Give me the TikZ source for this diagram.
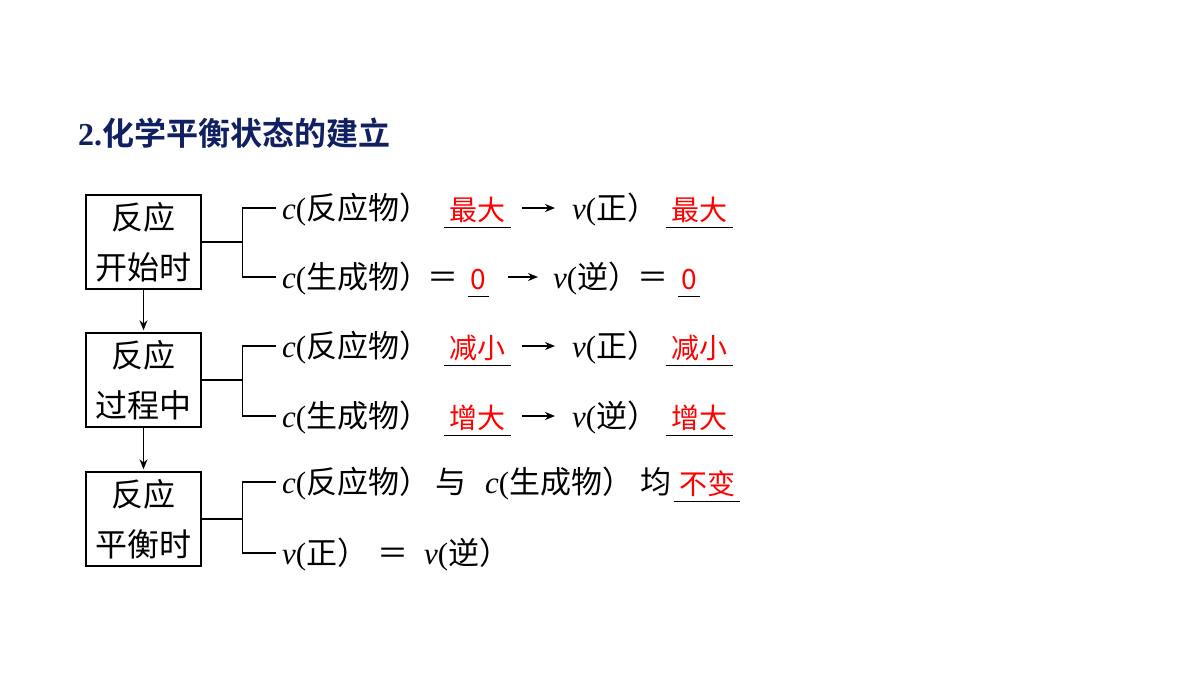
\documentclass[tikz,border=0pt]{standalone}
\usepackage{fontspec}
\setmainfont{Noto Sans CJK SC}[BoldFont={Noto Sans CJK SC Bold}]
\newfontfamily\tnr{Liberation Serif}
\usetikzlibrary{arrows.meta}
\definecolor{titleblue}{RGB}{16,32,96}
\newcommand{\cc}{{\tnr\itshape c}}
\newcommand{\vv}{{\tnr\itshape v}}
\newcommand{\lp}{{\tnr(}}

\begin{document}
\begin{tikzpicture}[x=1pt,y=-1pt,
  stagebox/.style={draw,line width=1.4pt,minimum width=115pt,minimum height=94pt,
    align=center,inner sep=0pt,font=\fontsize{32}{50}\selectfont},
  rowtext/.style={anchor=west,inner sep=0pt,text height=28pt,text depth=4.3pt,
    font=\fontsize{31}{31}\selectfont},
  blank/.style={inner sep=0pt,text height=31.6pt,text depth=6.4pt,text=red,
    font=\fontsize{28}{28}\selectfont},
  arr/.style={-{Stealth[length=10pt,width=8pt]},line width=1.3pt},
  link/.style={line width=1.4pt}]

  \useasboundingbox (0,0) rectangle (1200,675);

  \node[anchor=west,inner sep=0pt,text=titleblue,font=\fontsize{32}{32}\selectfont\bfseries]
    (title) at (78,133) {{\tnr 2.}化学平衡状态的建立};

  % stages
  \node[stagebox] (start) at (143.5,242) {反应\\开始时};
  \node[stagebox] (process) at (143.5,380) {反应\\过程中};
  \node[stagebox] (balance) at (143.5,519) {反应\\平衡时};
  \draw[arr,shorten >=2pt] (start) -- (process);
  \draw[arr,shorten >=2pt] (process) -- (balance);

  \coordinate (j1) at ([xshift=41pt]start.east);
  \coordinate (j2) at ([xshift=41pt]process.east);
  \coordinate (j3) at ([xshift=41pt]balance.east);

  % start
  \node[rowtext] (r1a) at (282,208) {\cc\lp 反应物）};
  \node[blank,minimum width=67pt] (b1) at (477.5,208) {最大};
  \node[rowtext] (r1v) at (572,208) {\vv\lp 正）};
  \node[blank,minimum width=67pt] (b2) at (699.5,208) {最大};

  \node[rowtext] (r2a) at (282,277) {\cc\lp 生成物）};
  \node[rowtext,anchor=center] (e1) at (443,277) {＝};
  \node[blank,minimum width=21pt] (b3) at (478.5,277) {0};
  \node[rowtext] (r2v) at (553,277) {\vv\lp 逆）};
  \node[rowtext,anchor=center] (e2) at (653,277) {＝};
  \node[blank,minimum width=22pt] (b4) at (689,277) {0};

  % process
  \node[rowtext] (r3a) at (282,346) {\cc\lp 反应物）};
  \node[blank,minimum width=67pt] (b5) at (477.5,346) {减小};
  \node[rowtext] (r3v) at (572,346) {\vv\lp 正）};
  \node[blank,minimum width=67pt] (b6) at (699.5,346) {减小};

  \node[rowtext] (r4a) at (282,416) {\cc\lp 生成物）};
  \node[blank,minimum width=67pt] (b7) at (477.5,416) {增大};
  \node[rowtext] (r4v) at (572,416) {\vv\lp 逆）};
  \node[blank,minimum width=67pt] (b8) at (699.5,416) {增大};

  % balance
  \node[rowtext] (r5a) at (282,482) {\cc\lp 反应物）};
  \node[rowtext,anchor=center] (r5b) at (451,482) {与};
  \node[rowtext] (r5c) at (485,482) {\cc\lp 生成物）};
  \node[rowtext,anchor=center] (r5d) at (656,482) {均};
  \node[blank,minimum width=66pt] (b9) at (707,482) {不变};

  \node[rowtext] (r6a) at (282,553) {\vv\lp 正）};
  \node[rowtext,anchor=center] (e3) at (393,553) {＝};
  \node[rowtext] (r6b) at (424,553) {\vv\lp 逆）};

  % brackets
  \draw[link] (start.east) -- (j1);
  \draw[link] ([xshift=-6pt]r1a.west) -| (j1) |- ([xshift=-6pt]r2a.west);
  \draw[link] (process.east) -- (j2);
  \draw[link] ([xshift=-6pt]r3a.west) -| (j2) |- ([xshift=-6pt]r4a.west);
  \draw[link] (balance.east) -- (j3);
  \draw[link] ([xshift=-6pt]r5a.west) -| (j3) |- ([xshift=-6pt]r6a.west);

  % blanks
  \draw[link] (b1.south west) -- (b1.south east);
  \draw[link] (b2.south west) -- (b2.south east);
  \draw[link] (b3.south west) -- (b3.south east);
  \draw[link] (b4.south west) -- (b4.south east);
  \draw[link] (b5.south west) -- (b5.south east);
  \draw[link] (b6.south west) -- (b6.south east);
  \draw[link] (b7.south west) -- (b7.south east);
  \draw[link] (b8.south west) -- (b8.south east);
  \draw[link] (b9.south west) -- (b9.south east);

  % arrows
  \draw[arr] ([xshift=11pt]b1.east) -- ([xshift=-17pt]r1v.west);
  \draw[arr] ([xshift=19pt]b3.east) -- ([xshift=-15pt]r2v.west);
  \draw[arr] ([xshift=11pt]b5.east) -- ([xshift=-17pt]r3v.west);
  \draw[arr] ([xshift=11pt]b7.east) -- ([xshift=-17pt]r4v.west);

\end{tikzpicture}
\end{document}
